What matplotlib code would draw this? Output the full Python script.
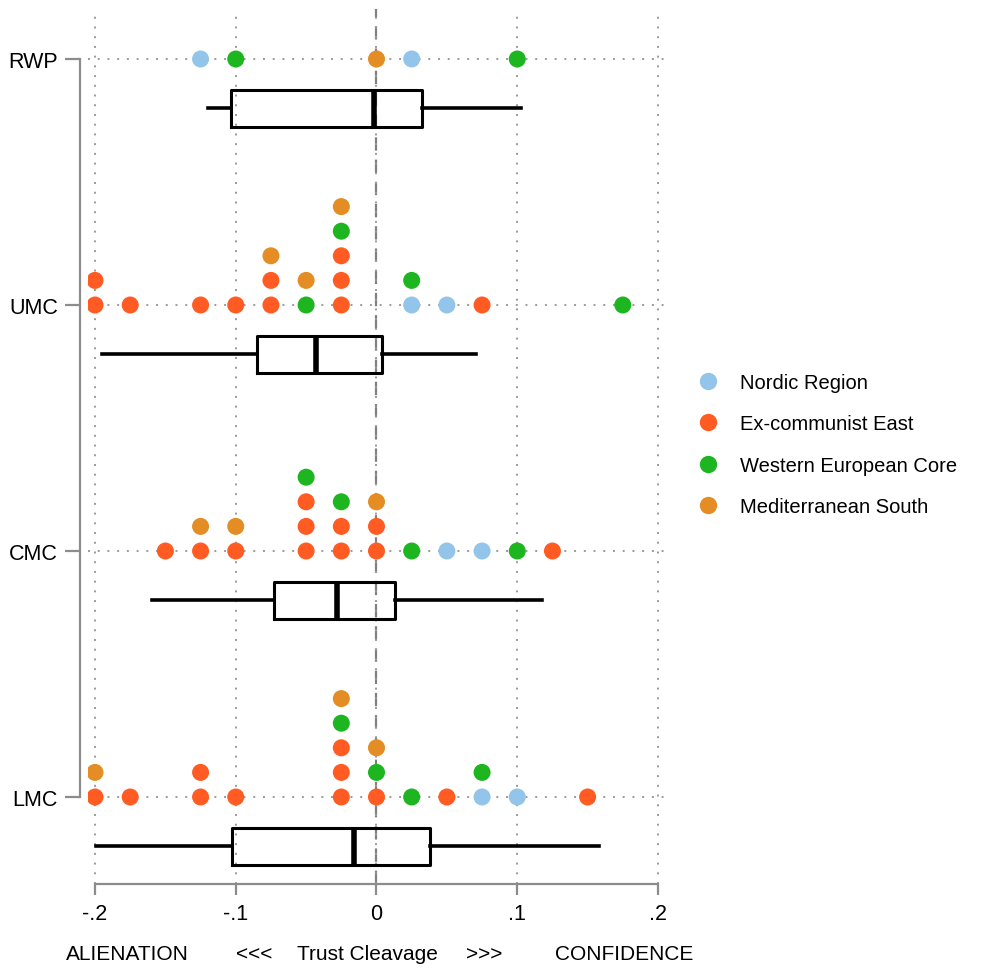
import numpy as np
import matplotlib.pyplot as plt
from matplotlib.lines import Line2D
from matplotlib.transforms import blended_transform_factory

plt.rcParams['font.family'] = ['Liberation Sans', 'DejaVu Sans']

regions = ['Nordic Region', 'Ex-communist East', 'Western European Core', 'Mediterranean South']
colors = ['#92C5E9', '#FF5B23', '#1DB520', '#E38D24']
groups = ['LMC', 'CMC', 'UMC', 'RWP']

# country scores (binned to .025) and region index, per class
lmc_x = [-0.2, -0.2, -0.175, -0.125, -0.125, -0.1, -0.025, -0.025, -0.025, -0.025, -0.025,
         0, 0, 0, 0.025, 0.05, 0.075, 0.075, 0.1, 0.15]
lmc_r = [1, 3, 1, 1, 1, 1, 1, 1, 1, 2, 3, 1, 2, 3, 2, 1, 0, 2, 0, 1]
cmc_x = [-0.15, -0.125, -0.125, -0.1, -0.1, -0.05, -0.05, -0.05, -0.05, -0.025, -0.025, -0.025,
         0, 0, 0, 0.025, 0.05, 0.075, 0.1, 0.125]
cmc_r = [1, 1, 3, 1, 3, 1, 1, 1, 2, 1, 1, 2, 1, 1, 3, 2, 0, 0, 2, 1]
umc_x = [-0.2, -0.2, -0.175, -0.125, -0.1, -0.075, -0.075, -0.075, -0.05, -0.05,
         -0.025, -0.025, -0.025, -0.025, -0.025, 0.025, 0.025, 0.05, 0.075, 0.175]
umc_r = [1, 1, 1, 1, 1, 1, 1, 3, 2, 3, 1, 1, 1, 2, 3, 0, 2, 0, 1, 2]
rwp_x = [-0.125, -0.1, 0.0, 0.025, 0.1]
rwp_r = [0, 2, 3, 0, 2]

# box plot summaries: lower whisker, q1, median, q3, upper whisker
whislo = [-0.199, -0.1596, -0.1947, -0.120]
q1 = [-0.1025, -0.073, -0.0846, -0.1034]
med = [-0.0163, -0.028, -0.043, -0.002]
q3 = [0.0379, 0.0132, 0.0042, 0.0326]
whishi = [0.158, 0.1174, 0.0708, 0.1025]

W, H = 987, 970
fig = plt.figure(figsize=(W / 100, H / 100), dpi=100)
ax = fig.add_axes([88 / W, 85 / H, (670 - 88) / W, (960 - 85) / H])

ppu = 1407.5  # pixels per unit on x
ax.set_xlim(-0.2 - 7 / ppu, 0.2 + 12 / ppu)
ax.set_ylim(-87 / 246, 3 + 50 / 246)

gray = '#8c8c8c'
ax.grid(True, axis='both', ls=(0, (1, 4)), color='#9a9a9a', lw=1.4, zorder=0)
ax.axvline(0, color='#808080', ls=(0, (6, 4)), lw=1.6, zorder=1)

step = 0.1
for gi, (xs, rs) in enumerate([(lmc_x, lmc_r), (cmc_x, cmc_r), (umc_x, umc_r), (rwp_x, rwp_r)]):
    counts = {}
    px, py, pc = [], [], []
    for x, r in sorted(zip(xs, rs)):
        k = counts.get(x, 0)
        counts[x] = k + 1
        px.append(x)
        py.append(gi + k * step)
        pc.append(colors[r])
    ax.scatter(px, py, s=150, c=pc, edgecolors='none', zorder=3)

stats = []
for i in range(len(groups)):
    stats.append(dict(whislo=whislo[i], q1=q1[i], med=med[i], q3=q3[i], whishi=whishi[i], fliers=[]))
ax.bxp(stats, positions=np.arange(len(groups)) - 0.2, widths=0.15, vert=False,
       showcaps=False, showfliers=False, manage_ticks=False,
       boxprops=dict(color='black', lw=2.2),
       whiskerprops=dict(color='black', lw=2.6),
       medianprops=dict(color='black', lw=4), zorder=2)

ax.set_xticks([-0.2, -0.1, 0, 0.1, 0.2])
ax.set_xticklabels(['-.2', '-.1', '0', '.1', '.2'])
ax.set_yticks(range(len(groups)))
ax.set_yticklabels(groups)

for s in ['top', 'right']:
    ax.spines[s].set_visible(False)
ax.spines['left'].set_position(('outward', 8 * 0.72))
ax.spines['left'].set_bounds(0, 3)
ax.spines['bottom'].set_bounds(-0.2, 0.2)
for s in ['left', 'bottom']:
    ax.spines[s].set_color(gray)
    ax.spines[s].set_linewidth(1.6)
ax.tick_params(axis='x', length=8, width=1.6, color=gray, pad=6, labelsize=15.5)
ax.tick_params(axis='y', length=11, width=1.6, color=gray, pad=5, labelsize=15.5)

tr = blended_transform_factory(ax.transData, fig.transFigure)
for x, t in [(-0.177, 'ALIENATION'), (-0.0867, '<<<'), (-0.0064, 'Trust Cleavage'),
             (0.0767, '>>>'), (0.176, 'CONFIDENCE')]:
    ax.text(x, 15 / H, t, transform=tr, ha='center', va='center', fontsize=15)

handles = [Line2D([], [], ls='none', marker='o', ms=12.5, mfc=c, mec='none') for c in colors]
fig.legend(handles, regions, loc='center left', bbox_to_anchor=(698 / W, (H - 445.5) / H),
           frameon=False, fontsize=14.5, handlelength=1.0, handletextpad=1.09,
           borderpad=0, borderaxespad=0, labelspacing=1.1)

fig.savefig('out.png', dpi=100)
